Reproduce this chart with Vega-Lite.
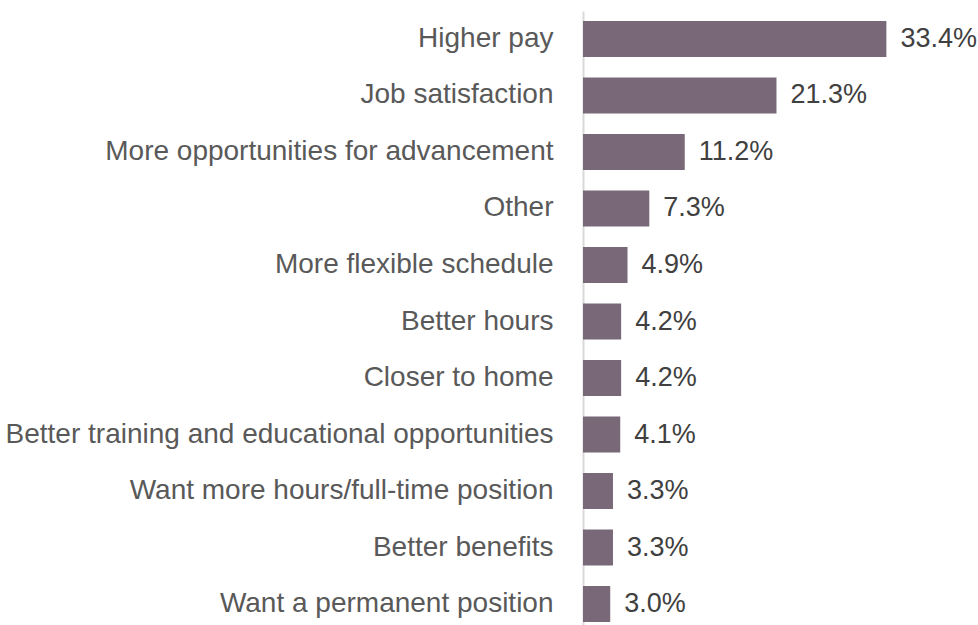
{
  "$schema": "https://vega.github.io/schema/vega-lite/v6.json",
  "width": 327,
  "height": 621,
  "autosize": {"type": "none"},
  "padding": {"left": 583, "top": 11, "right": 68, "bottom": 0},
  "background": "white",
  "config": {"view": {"stroke": null}, "font": "Liberation Sans"},
  "data": {"values": [
    {"reason": "Higher pay", "share": 0.334},
    {"reason": "Job satisfaction", "share": 0.213},
    {"reason": "More opportunities for advancement", "share": 0.112},
    {"reason": "Other", "share": 0.073},
    {"reason": "More flexible schedule", "share": 0.049},
    {"reason": "Better hours", "share": 0.042},
    {"reason": "Closer to home", "share": 0.042},
    {"reason": "Better training and educational opportunities", "share": 0.041},
    {"reason": "Want more hours/full-time position", "share": 0.033},
    {"reason": "Better benefits", "share": 0.033},
    {"reason": "Want a permanent position", "share": 0.030}
  ]},
  "encoding": {
    "y": {"field": "reason", "type": "nominal", "sort": null,
      "scale": {"paddingInner": 0.363, "paddingOuter": 0.177},
      "axis": {"title": null, "ticks": false, "labelPadding": 30, "labelFontSize": 28, "labelColor": "#595959", "domainColor": "#d9d9d9", "domainWidth": 2, "labelLimit": 700}},
    "x": {"field": "share", "type": "quantitative", "scale": {"domain": [0, 0.36]}, "axis": null}
  },
  "layer": [
    {"mark": {"type": "bar", "color": "#786878"}},
    {"mark": {"type": "text", "align": "left", "baseline": "middle", "dx": 14, "fontSize": 27, "color": "#404040"},
     "encoding": {"text": {"field": "share", "type": "quantitative", "format": ".1%"}}}
  ]
}
